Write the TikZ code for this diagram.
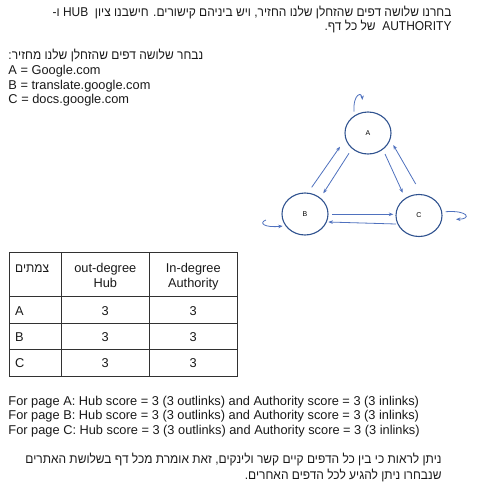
\documentclass[tikz,border=0pt]{standalone}
\usepackage{fontspec}
\setmainfont{Liberation Sans}
\newfontfamily\hebfont[Script=Hebrew,FakeStretch=0.935]{Liberation Sans}
\TeXXeTstate=1
\usetikzlibrary{shapes.geometric,arrows.meta,calc}
\definecolor{circ}{RGB}{47,82,143}
\definecolor{arrc}{RGB}{79,113,190}
\definecolor{txtc}{RGB}{25,25,25}
\definecolor{gridc}{RGB}{50,50,50}
\tikzset{
 txt/.style={inner sep=0pt, font=\fontsize{12.8}{15}\selectfont, text=txtc},
 ltxt/.style={txt, anchor=base west},
 rtxt/.style={txt, anchor=base east},
 ctxt/.style={txt, anchor=base},
 page/.style={ellipse, draw=circ, line width=1.1pt, minimum width=46pt, minimum height=42pt, inner sep=0pt, font=\fontsize{7}{8}\selectfont},
 link/.style={draw=arrc, line width=0.8pt, -{Stealth[length=4.5pt,width=3.5pt]}},
 tline/.style={draw=gridc, line width=0.7pt}
}
\begin{document}
\begin{tikzpicture}[x=1pt,y=-1pt]
\useasboundingbox (0,0) rectangle (478,499);
% top paragraph
\node[rtxt] (t1) at (451.7,16.2) {\hebfont\beginR בחרנו שלושה דפים שהזחלן שלנו החזיר, ויש ביניהם קישורים. חישבנו ציון\ \ \beginL HUB\endL{} ו-\endR};
\node[rtxt] (t2) at (451.7,30.7) {\hebfont\beginR\beginL AUTHORITY\endL{}\ \ של כל דף.\endR};
% list
\node[ltxt] (l0) at (8.3,59.5) {\hebfont\beginR נבחר שלושה דפים שהזחלן שלנו מחזיר:\endR};
\node[ltxt] (l1) at (8.3,74.3) {A = Google.com};
\node[ltxt] (l2) at (8.3,89.1) {B = translate.google.com};
\node[ltxt] (l3) at (8.3,103.9) {C = docs.google.com};
% graph
\node[page] (A) at (368,133) {A};
\node[page] (B) at (305,214) {B};
\node[page] (C) at (419,215.5) {C};
\draw[link] ($(B)+(6.7,-26.7)$) -- ($(A)+(-28,13.7)$);
\draw[link] ($(A)+(-19,20.3)$) -- ($(B)+(18.3,-20.7)$);
\draw[link] ($(A)+(17,21)$) -- ($(C)+(-16.3,-22.8)$);
\draw[link] ($(C)+(-3.3,-31.5)$) -- ($(A)+(25.3,12)$);
\draw[link] ($(B)+(27.3,0.3)$) -- ($(C)+(-25.7,-1.2)$);
\draw[link] ($(C)+(-23,8.5)$) -- ($(B)+(23.3,8)$);
\draw[link] ($(A)+(-14,-21.3)$) .. controls ($(A)+(-15,-40)$) and ($(A)+(-6,-41)$) .. ($(A)+(-5.7,-33)$);
\draw[link] ($(B)+(-39,6)$) .. controls ($(B)+(-47,9)$) and ($(B)+(-40,14)$) .. ($(B)+(-22.3,12)$);
\draw[link] ($(C)+(26.7,-3.8)$) .. controls ($(C)+(49,-5.5)$) and ($(C)+(53,3.5)$) .. ($(C)+(37,3.8)$);
% table
\draw[tline] (9,252.7) rectangle (237.7,376);
\draw[tline] (61.7,252.7) -- (61.7,376);
\draw[tline] (149,252.7) -- (149,376);
\draw[tline] (9,296.7) -- (237.7,296.7);
\draw[tline] (9,323.3) -- (237.7,323.3);
\draw[tline] (9,349.3) -- (237.7,349.3);
\node[ltxt] (h1) at (15,272.6) {\hebfont\beginR צמתים\endR};
\node[ctxt] (h2a) at (105.3,272.6) {out-degree};
\node[ctxt] (h2b) at (105.3,287.6) {Hub};
\node[ctxt] (h3a) at (193.3,272.6) {In-degree};
\node[ctxt] (h3b) at (193.3,287.6) {Authority};
\node[ltxt] (ra) at (15,315) {A};
\node[ctxt] (ra2) at (105.3,315) {3};
\node[ctxt] (ra3) at (193.3,315) {3};
\node[ltxt] (rb) at (15,341.2) {B};
\node[ctxt] (rb2) at (105.3,341.2) {3};
\node[ctxt] (rb3) at (193.3,341.2) {3};
\node[ltxt] (rc) at (15,367.2) {C};
\node[ctxt] (rc2) at (105.3,367.2) {3};
\node[ctxt] (rc3) at (193.3,367.2) {3};
% scores
\node[ltxt] (s1) at (8.3,405) {For page A: Hub score = 3 (3 outlinks) and Authority score = 3 (3 inlinks)};
\node[ltxt] (s2) at (8.3,419.5) {For page B: Hub score = 3 (3 outlinks) and Authority score = 3 (3 inlinks)};
\node[ltxt] (s3) at (8.3,434) {For page C: Hub score = 3 (3 outlinks) and Authority score = 3 (3 inlinks)};
% bottom paragraph
\node[rtxt] (b1) at (441.7,463.8) {\hebfont\beginR ניתן לראות כי בין כל הדפים קיים קשר ולינקים, זאת אומרת מכל דף בשלושת האתרים\endR};
\node[rtxt] (b2) at (441.7,479.5) {\hebfont\beginR שנבחרו ניתן להגיע לכל הדפים האחרים.\endR};
\end{tikzpicture}
\end{document}
